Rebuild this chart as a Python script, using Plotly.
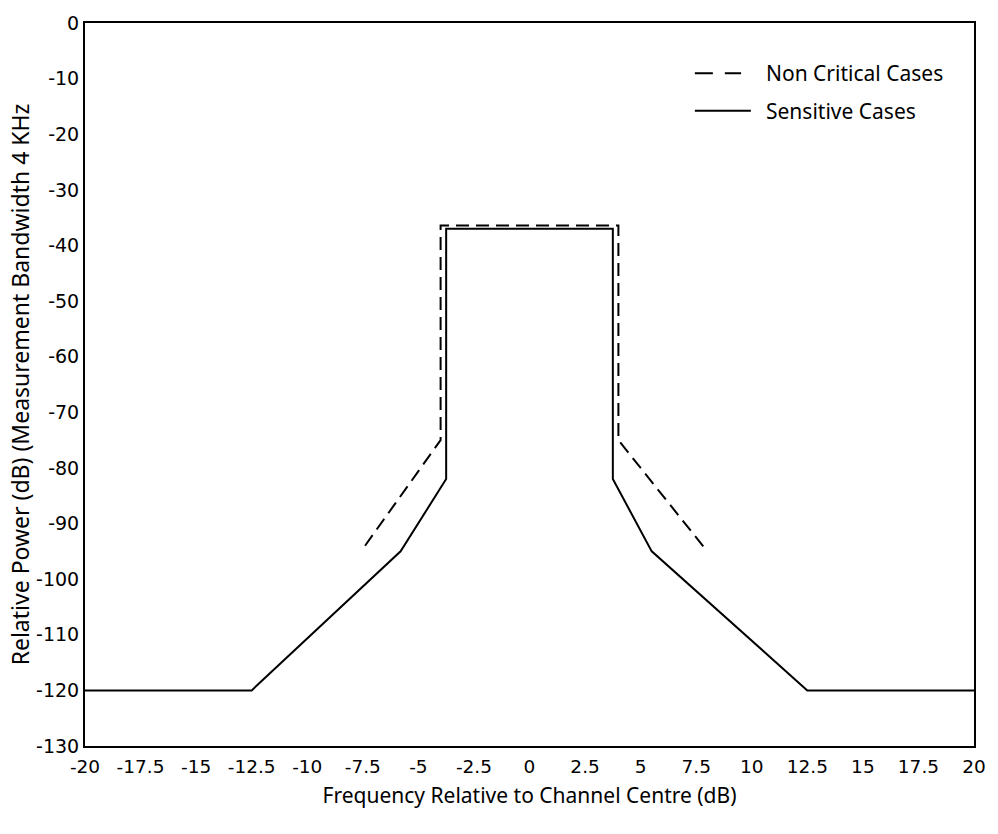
import plotly.graph_objects as go

# Sensitive cases (solid)
sens_x = [-20, -12.5, -5.8, -3.75, -3.75, 3.75, 3.75, 5.5, 12.5, 20]
sens_y = [-120, -120, -95, -82, -37, -37, -82, -95, -120, -120]

# Non critical cases (dashed)
nc_x = [-7.4, -4.0, -4.0, 4.0, 4.0, 8.0]
nc_y = [-94, -75, -36.4, -36.4, -75, -95]

x_ticks = [-20, -17.5, -15, -12.5, -10, -7.5, -5, -2.5, 0, 2.5, 5, 7.5, 10, 12.5, 15, 17.5, 20]
x_ticktext = ["-20", "-17.5", "-15", "-12.5", "-10", "-7.5", "-5", "-2.5", "0", "2.5", "5", "7.5", "10", "12.5", "15", "17.5", "20"]
y_ticks = [0, -10, -20, -30, -40, -50, -60, -70, -80, -90, -100, -110, -120, -130]
y_ticktext = ["0", "-10", "-20", "-30", "-40", "-50", "-60", "-70", "-80", "-90", "-100", "-110", "-120", "-130"]

series_names = ["Non Critical Cases", "Sensitive Cases"]

fig = go.Figure()
fig.add_trace(go.Scatter(x=nc_x, y=nc_y, mode="lines", name=series_names[0],
                         line=dict(color="black", width=2, dash="13px,7px"), showlegend=False))
fig.add_trace(go.Scatter(x=sens_x, y=sens_y, mode="lines", name=series_names[1],
                         line=dict(color="black", width=2), showlegend=False))

# custom legend (paper coordinates)
leg_x0, leg_x1, leg_tx = 0.686, 0.749, 0.764
leg_rows = [0.9305, 0.8786]
fig.add_shape(type="line", xref="paper", yref="paper", x0=leg_x0, x1=leg_x0 + 0.052,
              y0=leg_rows[0], y1=leg_rows[0], line=dict(color="black", width=2, dash="18px,12px"))
fig.add_shape(type="line", xref="paper", yref="paper", x0=leg_x0, x1=leg_x1,
              y0=leg_rows[1], y1=leg_rows[1], line=dict(color="black", width=2))
for name, yy in zip(series_names, leg_rows):
    fig.add_annotation(x=leg_tx, y=yy, xref="paper", yref="paper", text=name, showarrow=False,
                       xanchor="left", yanchor="middle",
                       font=dict(family="Noto Sans", size=21, color="black"))

x_tick_font = dict(family="DejaVu Sans", size=18.5, color="black")
y_tick_font = dict(family="DejaVu Sans", size=19, color="black")

fig.update_layout(
    width=998, height=834,
    margin=dict(l=85, r=21, t=14, b=88),
    paper_bgcolor="white", plot_bgcolor="white",
    showlegend=False,
    xaxis=dict(range=[-20, 20], tickvals=x_ticks, ticktext=x_ticktext,
               showgrid=False, zeroline=False, showline=True, mirror=True,
               linecolor="black", linewidth=2, ticks="", tickfont=x_tick_font,
               ticklabelstandoff=3,
               title=dict(text="Frequency Relative to Channel Centre (dB)",
                          font=dict(family="Noto Sans", size=21, color="black"), standoff=12)),
    yaxis=dict(range=[-130, 0], tickvals=y_ticks, ticktext=y_ticktext,
               showgrid=False, zeroline=False, showline=True, mirror=True,
               linecolor="black", linewidth=2, ticks="", tickfont=y_tick_font,
               ticklabelstandoff=0,
               title=dict(text="Relative Power (dB) (Measurement Bandwidth 4 KHz",
                          font=dict(family="Noto Sans", size=23, color="black"), standoff=0)),
)

fig.write_html("out.html")
